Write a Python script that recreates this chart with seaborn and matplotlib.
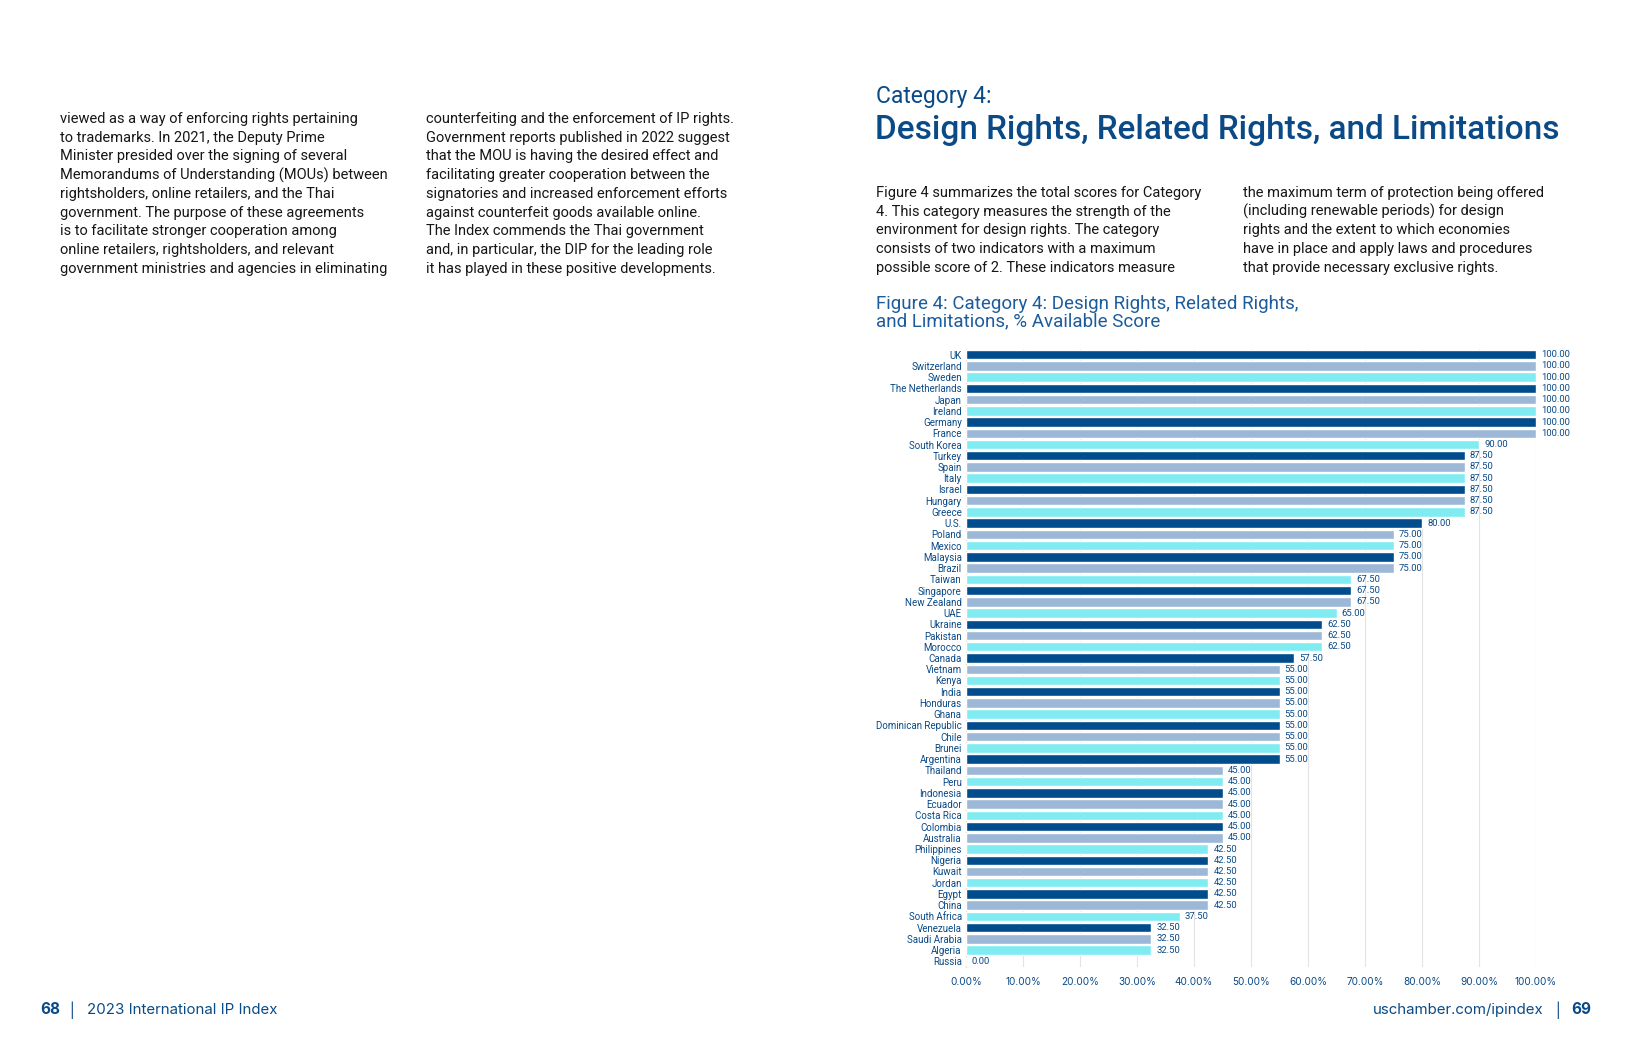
import numpy as np
import pandas as pd
import seaborn as sns
import matplotlib.pyplot as plt

countries = ['UK', 'Switzerland', 'Sweden', 'The Netherlands', 'Japan', 'Ireland', 'Germany', 'France',
             'South Korea', 'Turkey', 'Spain', 'Italy', 'Israel', 'Hungary', 'Greece', 'U.S.',
             'Poland', 'Mexico', 'Malaysia', 'Brazil', 'Taiwan', 'Singapore', 'New Zealand', 'UAE',
             'Ukraine', 'Pakistan', 'Morocco', 'Canada', 'Vietnam', 'Kenya', 'India', 'Honduras',
             'Ghana', 'Dominican Republic', 'Chile', 'Brunei', 'Argentina', 'Thailand', 'Peru',
             'Indonesia', 'Ecuador', 'Costa Rica', 'Colombia', 'Australia', 'Philippines', 'Nigeria',
             'Kuwait', 'Jordan', 'Egypt', 'China', 'South Africa', 'Venezuela', 'Saudi Arabia',
             'Algeria', 'Russia']
scores = [100, 100, 100, 100, 100, 100, 100, 100,
          90, 87.5, 87.5, 87.5, 87.5, 87.5, 87.5, 80,
          75, 75, 75, 75, 67.5, 67.5, 67.5, 65,
          62.5, 62.5, 62.5, 57.5, 55, 55, 55, 55,
          55, 55, 55, 55, 55, 45, 45,
          45, 45, 45, 45, 45, 42.5, 42.5,
          42.5, 42.5, 42.5, 42.5, 37.5, 32.5, 32.5,
          32.5, 0]
bar_colors = ['#004c8c', '#9db8d6', '#80ecf2']
xticks = [0, 10, 20, 30, 40, 50, 60, 70, 80, 90, 100]

left_col = ["viewed as a way of enforcing rights pertaining",
            "to trademarks. In 2021, the Deputy Prime",
            "Minister presided over the signing of several",
            "Memorandums of Understanding (MOUs) between",
            "rightsholders, online retailers, and the Thai",
            "government. The purpose of these agreements",
            "is to facilitate stronger cooperation among",
            "online retailers, rightsholders, and relevant",
            "government ministries and agencies in eliminating"]
mid_col = ["counterfeiting and the enforcement of IP rights.",
           "Government reports published in 2022 suggest",
           "that the MOU is having the desired effect and",
           "facilitating greater cooperation between the",
           "signatories and increased enforcement efforts",
           "against counterfeit goods available online.",
           "The Index commends the Thai government",
           "and, in particular, the DIP for the leading role",
           "it has played in these positive developments."]
intro_a = ["Figure 4 summarizes the total scores for Category",
           "4. This category measures the strength of the",
           "environment for design rights. The category",
           "consists of two indicators with a maximum",
           "possible score of 2. These indicators measure"]
intro_b = ["the maximum term of protection being offered",
           "(including renewable periods) for design",
           "rights and the extent to which economies",
           "have in place and apply laws and procedures",
           "that provide necessary exclusive rights."]

sns.set_style('white')
plt.rcParams['font.family'] = ['Roboto', 'DejaVu Sans']

W, H = 1632, 1056
fig = plt.figure(figsize=(W / 100, H / 100), dpi=100)


def px(x, y):
    return x / W, 1 - y / H


dark = '#0a4a87'
mid_blue = '#1d5c9c'
body = '#161616'

# body text columns
for lines, x0, y0 in [(left_col, 60, 119), (mid_col, 426, 119),
                      (intro_a, 876, 193), (intro_b, 1243, 193)]:
    for i, line in enumerate(lines):
        fig.text(*px(x0, y0 + i * 18.7), line, fontsize=10.5, color=body, va='center')

fig.text(*px(876, 96), 'Category 4:', fontsize=16.5, color=dark, va='center')
fig.text(*px(875, 130), 'Design Rights, Related Rights, and Limitations', fontsize=24,
         color=dark, va='center', fontweight='medium')
fig.text(*px(876, 304), 'Figure 4: Category 4: Design Rights, Related Rights,', fontsize=13.5,
         color=mid_blue, va='center')
fig.text(*px(876, 321.5), 'and Limitations, % Available Score', fontsize=13.5,
         color=mid_blue, va='center')

# footer
ff = ['Inter', 'DejaVu Sans']
fig.text(*px(40, 1010), '68', fontsize=11, color=dark, fontweight='bold', va='center', family=ff)
fig.text(*px(72, 1010), '|', fontsize=10, color=dark, va='center', ha='center', family=ff)
fig.text(*px(87, 1010), '2023 International IP Index', fontsize=10.8, color=dark, va='center',
         family=ff)
fig.text(*px(1543, 1010), 'uschamber.com/ipindex', fontsize=10.8, color=dark, va='center',
         ha='right', family=ff)
fig.text(*px(1558, 1010), '|', fontsize=10, color=dark, va='center', ha='center', family=ff)
fig.text(*px(1591, 1010), '69', fontsize=11, color=dark, fontweight='bold', va='center',
         ha='right', family=ff)

# chart
ax = fig.add_axes([966 / W, 1 - 967 / H, 570 / W, (967 - 349) / H])
df = pd.DataFrame({'country': countries, 'score': scores})
palette = [bar_colors[i % 3] for i in range(len(countries))]
sns.barplot(data=df, x='score', y='country', hue='country', palette=palette, legend=False,
            width=0.84, saturation=1, ax=ax, zorder=3)

for i, v in enumerate(scores):
    ax.text(v + 0.9, i, f'{v:.2f}', fontsize=6.8, color=dark, va='center', ha='left')

ax.set_xlim(0, 100)
ax.set_ylim(len(countries) - 0.5, -0.5)
ax.set_xticks(xticks)
ax.set_xticklabels([f'{t:.2f}%' for t in xticks], fontsize=7.2, color=dark, family=ff)
ax.tick_params(axis='x', length=0, pad=7)
ax.tick_params(axis='y', length=0, pad=3, labelsize=7, labelcolor=dark)
ax.set_xlabel('')
ax.set_ylabel('')
ax.grid(axis='x', color='#e3e3e3', linewidth=0.8, zorder=0)
for s in ['top', 'right', 'bottom']:
    ax.spines[s].set_visible(False)
ax.spines['left'].set_color('#d8d8d8')
ax.spines['left'].set_linewidth(0.8)

fig.savefig('out.png', dpi=100)
